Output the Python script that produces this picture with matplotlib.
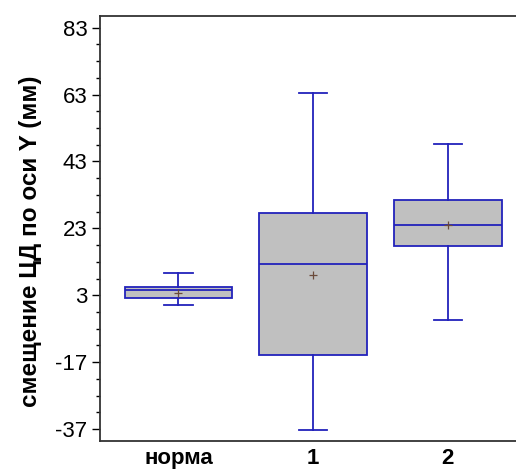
import matplotlib.pyplot as plt
import numpy as np

plt.rcParams['font.family'] = ['Liberation Sans', 'DejaVu Sans']
plt.rcParams['axes.unicode_minus'] = False

groups = ["норма", "1", "2"]
whislo = [0.2, -37.2, -4.3]
q1 = [2.1, -14.9, 17.6]
med = [4.7, 12.4, 23.9]
q3 = [5.4, 27.7, 31.6]
whishi = [9.5, 63.4, 48.3]
means = [3.6, 9.0, 24.0]

yticks = [-37, -17, 3, 23, 43, 63, 83]

stats = []
for i in range(len(groups)):
    stats.append(dict(label=groups[i], whislo=whislo[i], q1=q1[i], med=med[i],
                      q3=q3[i], whishi=whishi[i], mean=means[i], fliers=[]))

fig = plt.figure(figsize=(5.16, 4.72), dpi=100)
ax = fig.add_axes([0.1938, 0.065, 0.81, 0.9017])

blue = "#2222bb"
ax.bxp(stats, positions=[1, 2, 3], widths=0.8, capwidths=0.21,
       showmeans=True, patch_artist=True,
       boxprops=dict(facecolor="#c0c0c0", edgecolor=blue, linewidth=1.3),
       medianprops=dict(color=blue, linewidth=1.3),
       whiskerprops=dict(color=blue, linewidth=1.3),
       capprops=dict(color=blue, linewidth=1.3),
       meanprops=dict(marker="+", markeredgecolor="#6b4a3a", markersize=6,
                      markeredgewidth=0.9))

ax.set_xlim(0.418, 3.52)
ax.set_ylim(-40.7, 86.6)
ax.set_yticks(yticks)
ax.set_yticks(np.arange(-37, 84, 5), minor=True)
ax.tick_params(axis='y', which='major', length=6, width=1, labelsize=16, pad=3)
ax.tick_params(axis='y', which='minor', length=3, width=1)
ax.tick_params(axis='x', length=0, labelsize=16, pad=5)
for lab in ax.get_xticklabels():
    lab.set_fontweight('bold')

for s in ['left', 'bottom', 'top']:
    ax.spines[s].set_color("#333333")
    ax.spines[s].set_linewidth(1.3)
ax.spines['right'].set_visible(False)

ax.set_ylabel("смещение ЦД по оси Y (мм)", fontsize=17.5, fontweight='bold')
ax.yaxis.set_label_coords(-0.138, 0.47)

fig.savefig("out.png", dpi=100)
